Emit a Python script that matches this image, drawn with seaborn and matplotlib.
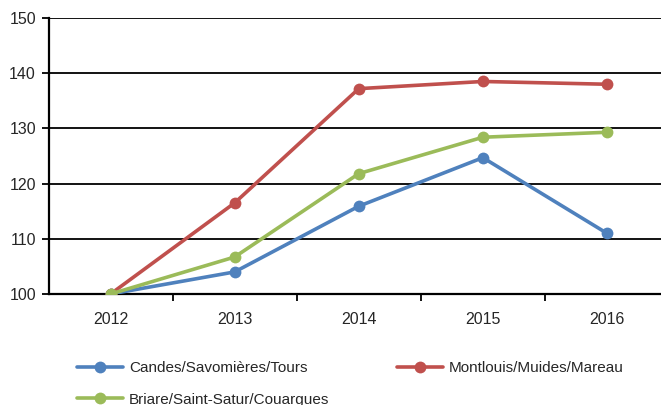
import matplotlib
matplotlib.use("Agg")
import matplotlib.pyplot as plt
from matplotlib.ticker import FixedLocator
import seaborn as sns
import pandas as pd

years = [2012, 2013, 2014, 2015, 2016]
candes = [100.0, 104.0, 115.9, 124.7, 111.0]
montlouis = [100.0, 116.5, 137.2, 138.5, 138.0]
briare = [100.0, 106.7, 121.8, 128.4, 129.3]
series_names = ["Candes/Savomières/Tours", "Montlouis/Muides/Mareau", "Briare/Saint-Satur/Couargues"]
colors = ["#4F81BD", "#C0504D", "#9BBB59"]
yticks = [100, 110, 120, 130, 140, 150]

rows = []
for name, vals in zip(series_names, [candes, montlouis, briare]):
    for y, v in zip(years, vals):
        rows.append({"year": y, "value": v, "series": name})
df = pd.DataFrame(rows)

sns.set_style("white")
plt.rcParams["font.family"] = ["Liberation Sans", "DejaVu Sans"]

W, H = 661, 405
fig = plt.figure(figsize=(W / 100, H / 100), dpi=100)
left, right, top, bottom = 48.5, 669, 18, 294
ax = fig.add_axes([left / W, 1 - bottom / H, (right - left) / W, (bottom - top) / H])

sns.lineplot(data=df, x="year", y="value", hue="series", hue_order=series_names,
             palette=colors, marker="o", markersize=8.5, markeredgewidth=0,
             linewidth=2.6, ax=ax, legend=False, sort=False)

ax.set_xlim(2011.5, 2016.5)
ax.set_ylim(100, 150)
ax.set_xticks(years)
ax.set_xticklabels([str(y) for y in years], fontsize=11.5)
ax.xaxis.set_minor_locator(FixedLocator([2012.5, 2013.5, 2014.5, 2015.5]))
ax.tick_params(axis="x", which="major", length=0, pad=13)
ax.tick_params(axis="x", which="minor", length=5, width=1.3, color="black", direction="out", bottom=True)
ax.set_yticks(yticks)
ax.set_yticklabels([str(v) for v in yticks], fontsize=11.5)
ax.tick_params(axis="y", which="major", length=5, width=1.3, color="black", direction="out", left=True, pad=4)
ax.set_xlabel("")
ax.set_ylabel("")
ax.grid(axis="y", color="black", linewidth=1.3)
ax.set_axisbelow(True)
for s in ["top", "right"]:
    ax.spines[s].set_visible(False)
for s in ["left", "bottom"]:
    ax.spines[s].set_color("black")
    ax.spines[s].set_linewidth(1.6)
ax.spines["bottom"].set_zorder(1)

handles = [plt.Line2D([], [], color=c, linewidth=2.6, marker="o", markersize=8.5, markeredgewidth=0)
           for c in colors]
order = [0, 2, 1]
fig.legend([handles[i] for i in order], [series_names[i] for i in order],
           ncol=2, loc="upper left", bbox_to_anchor=(77 / W, 1 - 361 / H),
           frameon=False, fontsize=11, handlelength=3.0, handletextpad=0.4,
           columnspacing=4.45, labelspacing=1.15, borderpad=0, borderaxespad=0)

fig.savefig("out.png", dpi=100)
